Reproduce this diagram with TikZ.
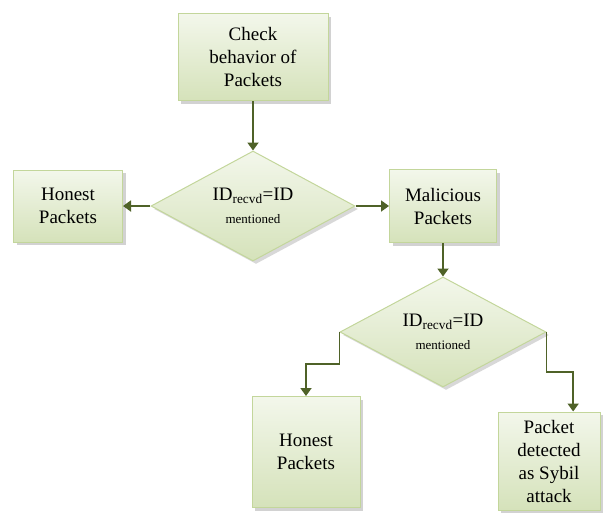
\documentclass[tikz,border=0pt]{standalone}
\usepackage{fontspec}
\setmainfont{Liberation Serif}
\usetikzlibrary{shapes.geometric,shadows,arrows.meta,calc}

\definecolor{boxtop}{HTML}{F3F7EB}
\definecolor{boxbottom}{HTML}{D5E2BA}
\definecolor{boxline}{HTML}{C3D69B}
\definecolor{flowline}{HTML}{4F6228}

\tikzset{
  stepbox/.style={rectangle, draw=boxline, line width=1pt,
    top color=boxtop, bottom color=boxbottom,
    drop shadow={shadow xshift=3pt, shadow yshift=-3pt, fill=black!35},
    align=center, inner sep=2pt, font=\fontsize{19}{23}\selectfont},
  test/.style={diamond, aspect=1.87, draw=boxline, line width=1pt,
    top color=boxtop, bottom color=boxbottom,
    drop shadow={shadow xshift=3pt, shadow yshift=-3pt, fill=black!30},
    align=center, inner sep=0pt, font=\fontsize{19}{23}\selectfont},
  flow/.style={draw=flowline, line width=1.8pt, -{Triangle[width=11pt,length=8pt]}}
}

\begin{document}
\begin{tikzpicture}[x=1pt, y=-1pt]
        \useasboundingbox (0,0) rectangle (604,517);

        % the boxes
        \node[stepbox, minimum width=150pt, minimum height=87pt] (check) at (253,57) {Check\\behavior of\\Packets};
        \node[stepbox, minimum width=109pt, minimum height=72pt] (honest1) at (68,206) {Honest\\Packets};
        \node[stepbox, minimum width=107pt, minimum height=73pt] (malicious) at (443,206) {Malicious\\Packets};
        \node[stepbox, minimum width=108pt, minimum height=111pt] (honest2) at (306,452) {Honest\\Packets};
        \node[stepbox, minimum width=102pt, minimum height=98pt] (sybil) at (549,461) {Packet\\detected\\as Sybil\\attack};

        % the two checks
        \node[test, minimum width=204pt, minimum height=110pt] (idcheck1) at (253,206)
            {ID\textsubscript{recvd}=ID\\{\fontsize{13}{13}\selectfont mentioned}};
        \node[test, minimum width=206pt, minimum height=110pt] (idcheck2) at (443,332)
            {ID\textsubscript{recvd}=ID\\{\fontsize{13}{13}\selectfont mentioned}};

        % the bends of the lower connectors
        \coordinate (bend1) at ($(idcheck2.west)!.5!(honest2.north)$);
        \coordinate (bend2) at ($(idcheck2.east)!.5!(sybil.64)$);

        % draw the arrows
        \draw[flow] (check) -- (idcheck1);
        \draw[flow] (idcheck1) -- (honest1);
        \draw[flow] (idcheck1) -- (malicious);
        \draw[flow] (malicious) -- (idcheck2);
        \draw[flow] (idcheck2.west) |- (bend1) -| (honest2.north);
        \draw[flow] (idcheck2.east) |- (bend2) -| (sybil.64);

    \end{tikzpicture}
\end{document}
